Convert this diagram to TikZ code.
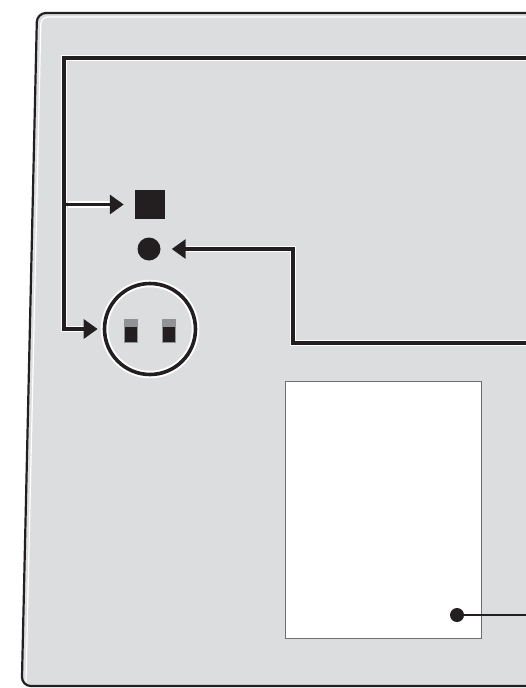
\documentclass[tikz,border=0pt]{standalone}
\usetikzlibrary{arrows.meta,calc}
\definecolor{panel}{HTML}{DCDDDF}
\definecolor{ink}{HTML}{231F20}
\definecolor{swgray}{HTML}{929395}
\definecolor{scrline}{HTML}{6E6E70}
\begin{document}
\begin{tikzpicture}[x=1pt,y=-1pt,
  conn/.style={draw=ink, line width=3.4pt, preaction={draw=white, line width=6.4pt}},
  branchconn/.style={draw=ink, line width=3.4pt, preaction={draw=white, line width=6.4pt, shorten <=3.5pt}},
  tipped/.style={-{Triangle[length=14pt,width=19pt]}},
  blob/.style={circle, fill=ink, inner sep=0pt},
  switchbox/.style={rectangle, fill=ink, draw=swgray, line width=0.6pt, inner sep=0pt,
     minimum width=13pt, minimum height=23pt,
     path picture={\fill[swgray] (path picture bounding box.north west) rectangle ([yshift=-8pt]path picture bounding box.north east);}},
]
\useasboundingbox (0,0) rectangle (525,688);
\fill[white] (0,0) rectangle (525,688);
% panel
\draw[ink, line width=2.2pt, fill=panel, rounded corners=9pt]
  (545,13) -- (37,13) -- (21.8,686) -- (545,686);
\draw[white, line width=1.2pt, rounded corners=7pt]
  (545,17) -- (41,17) -- (26,682);
% elements
\node[rectangle, fill=ink, minimum width=30pt, minimum height=29pt, inner sep=0pt] (sq) at (150,204.5) {};
\node[blob, minimum size=23pt] (dot) at (149,249) {};
\node[circle, draw=ink, line width=3.6pt, preaction={draw=white, line width=7.5pt}, minimum size=91pt, inner sep=0pt] (ring) at (150,329) {};
\node[switchbox] (swa) at (130.5,330.5) {};
\node[switchbox] (swb) at (168.5,330.5) {};
\node[rectangle, draw=scrline, fill=white, line width=1pt, minimum width=196pt, minimum height=257pt, inner sep=0pt] (scr) at (383,509.5) {};
\node[blob, minimum size=14pt] (sdot) at (457,615) {};
% free ends beyond right edge
\coordinate (e1) at (540,58);
\coordinate (e2) at (540,343);
\coordinate (e3) at (540,615);
\coordinate (bus) at (64,58);
\coordinate (br) at (64,204.5);
% connectors
\draw[conn, tipped, shorten >=5pt] (e1) -- (bus) |- (ring.west);
\draw[branchconn, tipped, shorten >=11pt] (br) -- (sq.west);
\draw[conn, tipped, shorten >=11pt] (e2) -| (293,249) -- (dot.east);
\draw[draw=ink, line width=2.8pt] (e3) -- (sdot.center);
\end{tikzpicture}
\end{document}
